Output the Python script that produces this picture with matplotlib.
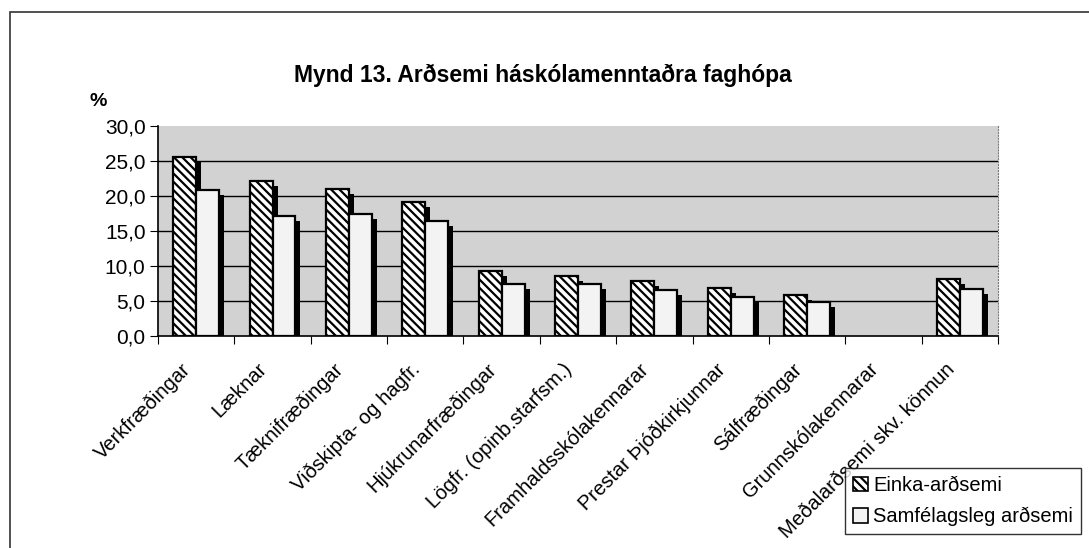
import numpy as np
import matplotlib
matplotlib.use("Agg")
from matplotlib import pyplot as plt
from matplotlib import transforms
from matplotlib.patches import Rectangle, Patch
from matplotlib.ticker import FuncFormatter, FixedLocator

plt.rcParams["font.family"] = ["Liberation Sans", "DejaVu Sans"]
plt.rcParams["hatch.linewidth"] = 1.6

categories = [
    "Verkfræðingar",
    "Læknar",
    "Tæknifræðingar",
    "Viðskipta- og hagfr.",
    "Hjúkrunarfræðingar",
    "Lögfr. (opinb.starfsm.)",
    "Framhaldsskólakennarar",
    "Prestar Þjóðkirkjunnar",
    "Sálfræðingar",
    "Grunnskólakennarar",
    "Meðalarðsemi skv. könnun",
]
# private return and social return, percent (no value for Grunnskólakennarar)
einka = [25.5, 22.2, 21.0, 19.2, 9.3, 8.6, 7.9, 6.8, 5.9, np.nan, 8.1]
samfelags = [20.9, 17.2, 17.4, 16.4, 7.5, 7.4, 6.6, 5.6, 4.9, np.nan, 6.7]
yticks = [0, 5, 10, 15, 20, 25, 30]

fig = plt.figure(figsize=(10.89, 5.48), dpi=100)
ax = fig.add_axes([158 / 1089, 1 - 336 / 548, 840 / 1089, 210 / 548])

x = np.arange(len(categories))
w = 0.3

# shadows, shifted a few pixels right and down
shift = ax.transData + transforms.ScaledTranslation(5 / 100, -5 / 100, fig.dpi_scale_trans)
for off, vals in ((-w / 2, einka), (w / 2, samfelags)):
    ax.bar(x + off, vals, w, color="black", transform=shift, zorder=2)

ax.bar(x - w / 2, einka, w, facecolor="white", edgecolor="black", hatch="\\\\\\\\",
       linewidth=1.6, zorder=3, label="Einka-arðsemi")
ax.bar(x + w / 2, samfelags, w, facecolor="#f3f3f3", edgecolor="black",
       linewidth=1.6, zorder=3, label="Samfélagsleg arðsemi")

ax.set_xlim(-0.5, len(categories) - 0.5)
ax.set_ylim(0, 30)
ax.set_facecolor("#d2d2d2")
for yv in yticks[1:-1]:
    ax.axhline(yv, color="black", linewidth=1.0, zorder=1)

ax.set_yticks(yticks)
ax.yaxis.set_major_formatter(FuncFormatter(lambda v, p: f"{v:.1f}".replace(".", ",")))
ax.tick_params(axis="y", labelsize=15, length=6, direction="out", pad=3)

# tick marks at category boundaries, labels at centres
ax.xaxis.set_major_locator(FixedLocator(np.arange(-0.5, len(categories), 1.0)))
ax.xaxis.set_major_formatter(FuncFormatter(lambda v, p: ""))
ax.xaxis.set_minor_locator(FixedLocator(x - 0.2))
ax.set_xticklabels(categories, minor=True, rotation=45, ha="right",
                   rotation_mode="anchor", fontsize=14.5)
ax.tick_params(axis="x", which="major", length=6, direction="out")
ax.tick_params(axis="x", which="minor", length=0, pad=17)

ax.spines["left"].set_linewidth(1.2)
ax.spines["bottom"].set_linewidth(1.2)
ax.spines["top"].set_visible(False)
ax.spines["right"].set_color("#777777")
ax.spines["right"].set_linestyle(":")

fig.text(543 / 1089, 1 - 75 / 548, "Mynd 13. Arðsemi háskólamenntaðra faghópa",
         ha="center", va="center", fontsize=16.5, fontweight="bold")
fig.text(98 / 1089, 1 - 101 / 548, "%", ha="center", va="center",
         fontsize=14, fontweight="bold")

# outer chart frame
fig.add_artist(Rectangle((10 / 1089, -0.05), 1.1, 1 - 12 / 548 + 0.05,
                         transform=fig.transFigure, fill=False,
                         edgecolor="#333333", linewidth=1.2))

handles = [
    Patch(facecolor="white", edgecolor="black", hatch="\\\\\\\\", linewidth=1.2),
    Patch(facecolor="#f3f3f3", edgecolor="black", linewidth=1.2),
]
leg = fig.legend(handles, ["Einka-arðsemi", "Samfélagsleg arðsemi"],
                 loc="upper left", bbox_to_anchor=(845 / 1089, 1 - 468 / 548),
                 fontsize=14.5, frameon=True, fancybox=False, handlelength=0.75,
                 handleheight=0.75, handletextpad=0.25, labelspacing=0.6,
                 borderpad=0.4, borderaxespad=0)
leg.get_frame().set_edgecolor("black")
leg.get_frame().set_linewidth(1.0)

fig.savefig("out.png", dpi=100)
